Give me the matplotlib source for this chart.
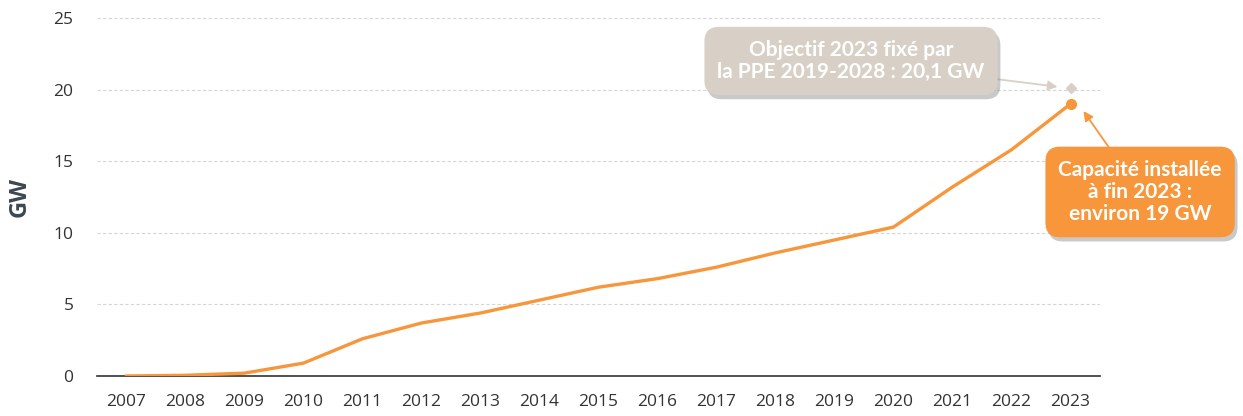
import matplotlib.pyplot as plt
import matplotlib.patheffects as pe

plt.rcParams['font.family'] = ['Open Sans', 'DejaVu Sans']

years = [2007, 2008, 2009, 2010, 2011, 2012, 2013, 2014, 2015, 2016,
         2017, 2018, 2019, 2020, 2021, 2022, 2023]
capacity_gw = [0.0, 0.05, 0.2, 0.9, 2.6, 3.7, 4.4, 5.3, 6.2, 6.8,
               7.6, 8.6, 9.5, 10.4, 13.2, 15.8, 19.0]
target_year = 2023
target_gw = 20.1

orange = '#f7963a'
beige = '#d8d0c6'

fig = plt.figure(figsize=(12.43, 4.16), dpi=100)
ax = fig.add_axes([97 / 1243, 1 - 376 / 416, (1100 - 97) / 1243, (376 - 18) / 416])

ax.plot(years, capacity_gw, color=orange, lw=2.4, zorder=3)
ax.plot([years[-1]], [capacity_gw[-1]], 'o', color=orange, ms=7, zorder=4)
ax.plot([target_year], [target_gw], 'D', color=beige, ms=5.5, zorder=4)

ax.set_xlim(2006.5, 2023.5)
ax.set_ylim(0, 25)
ax.set_xticks(years)
ax.set_yticks([0, 5, 10, 15, 20, 25])
ax.tick_params(length=0, labelsize=12.5, colors='#333333')
ax.tick_params(axis='x', pad=13)
ax.tick_params(axis='y', pad=17)
ax.grid(axis='y', ls=(0, (3, 2)), color='#d5d5d5', lw=0.8)
ax.set_axisbelow(True)
for s in ['top', 'right', 'left']:
    ax.spines[s].set_visible(False)
ax.spines['bottom'].set_color('#333333')
ax.spines['bottom'].set_linewidth(1.2)
fig.text(20 / 1243, 1 - 197 / 416, 'GW', rotation=90, ha='center', va='center',
         fontsize=17, fontweight='bold', color='#3c4654')

shadow = [pe.SimplePatchShadow(offset=(2, -3), shadow_rgbFace='#888888', alpha=0.45), pe.Normal()]
box_font = ['Lato', 'DejaVu Sans']

t1 = ax.annotate('Objectif 2023 fixé par\nla PPE 2019-2028 : 20,1 GW',
                 xy=(target_year - 0.22, target_gw + 0.1), xycoords='data',
                 xytext=(2019.28, 22.0), textcoords='data',
                 ha='center', va='center', fontsize=15, fontweight='bold',
                 family=box_font, color='white', linespacing=1.15,
                 bbox=dict(boxstyle='round,pad=0.62,rounding_size=0.7', fc=beige, ec='none'),
                 arrowprops=dict(arrowstyle='-|>', color=beige, lw=1.3,
                                 mutation_scale=14, shrinkA=0, shrinkB=0),
                 zorder=5)
t1.get_bbox_patch().set_path_effects(shadow)

t2 = ax.annotate('Capacité installée\nà fin 2023 :\nenviron 19 GW',
                 xy=(target_year + 0.22, capacity_gw[-1] - 0.5), xycoords='data',
                 xytext=(2024.18, 12.85), textcoords='data',
                 ha='center', va='center', fontsize=15, fontweight='bold',
                 family=box_font, color='white', linespacing=1.15,
                 bbox=dict(boxstyle='round,pad=0.62,rounding_size=0.7', fc=orange, ec='none'),
                 arrowprops=dict(arrowstyle='-|>', color=orange, lw=1.3,
                                 mutation_scale=14, shrinkA=0, shrinkB=0),
                 annotation_clip=False, zorder=5)
t2.get_bbox_patch().set_path_effects(shadow)

fig.savefig('out.png', dpi=100)
